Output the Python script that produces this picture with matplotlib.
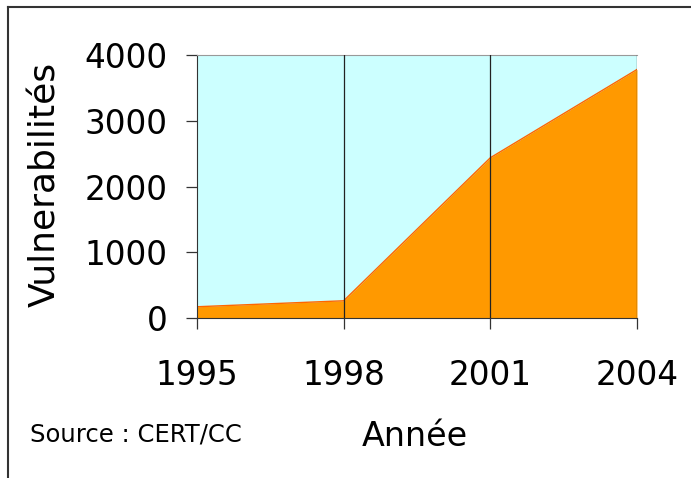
import matplotlib.pyplot as plt
from matplotlib.lines import Line2D

years = [1995, 1998, 2001, 2004]
vulns = [171, 262, 2437, 3780]
yticks = [0, 1000, 2000, 3000, 4000]

fig = plt.figure(figsize=(6.91, 4.78), dpi=100)
W, H = 691, 478

# outer frame (top and left visible)
fig.add_artist(Line2D([8/W, 1], [1-7/H, 1-7/H], color='#333333', lw=1.5, transform=fig.transFigure))
fig.add_artist(Line2D([8/W, 8/W], [0, 1-7/H], color='#333333', lw=1.5, transform=fig.transFigure))

ax = fig.add_axes([197/W, 1-318/H, (637-197)/W, (318-55)/H])
ax.set_facecolor('#CCFFFF')
ax.fill_between(years, vulns, 0, color='#FF9900', lw=0)
ax.plot(years, vulns, color='#FF6600', lw=1)

for x in years[1:]:
    ax.axvline(x, color='#222222', lw=0.9, zorder=3)

ax.set_xlim(1995, 2004)
ax.set_ylim(0, 4000)
ax.set_xticks(years)
ax.set_yticks(yticks)
ax.tick_params(axis='both', labelsize=23.5, length=8, width=0.9, color='#333333', direction='out')
ax.tick_params(axis='x', pad=21.5)
ax.tick_params(axis='y', pad=13.5)

ax.spines['top'].set_color('#999999')
ax.spines['right'].set_visible(False)
ax.spines['left'].set_color('#333333')
ax.spines['bottom'].set_color('#333333')

fig.text(45/W, 1-184/H, 'Vulnerabilités', rotation=90, fontsize=26, ha='center', va='center')
fig.text(415/W, 1-437/H, 'Année', fontsize=24, ha='center', va='center')
fig.text(30/W, 1-434/H, 'Source : CERT/CC', fontsize=17.5, ha='left', va='center')

fig.savefig('out.png', dpi=100)
